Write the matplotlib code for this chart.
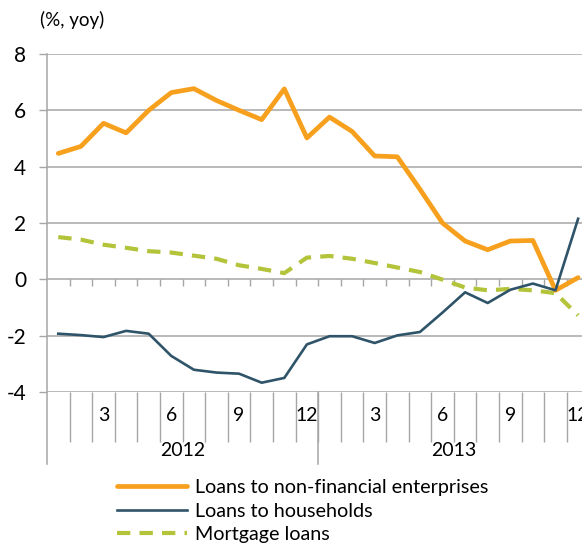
import matplotlib.pyplot as plt

# monthly data, Jan 2012 .. Dec 2013
months = list(range(24))
month_labels = ['', '', '3', '', '', '6', '', '', '9', '', '', '12',
                '', '', '3', '', '', '6', '', '', '9', '', '', '12']
years = ['2012', '2013']

non_financial = [4.47, 4.72, 5.54, 5.20, 6.00, 6.63, 6.77, 6.35, 6.00, 5.67, 6.76, 5.02,
                 5.76, 5.25, 4.38, 4.35, 3.20, 2.00, 1.36, 1.05, 1.36, 1.38, -0.39, 0.06]
households = [-1.93, -1.98, -2.05, -1.83, -1.93, -2.72, -3.21, -3.31, -3.35, -3.67, -3.50, -2.31,
              -2.02, -2.02, -2.26, -1.99, -1.87, -1.18, -0.46, -0.84, -0.37, -0.15, -0.39, 2.15]
mortgage = [1.50, 1.41, 1.23, 1.12, 1.00, 0.95, 0.84, 0.73, 0.50, 0.37, 0.22, 0.77,
            0.83, 0.73, 0.58, 0.42, 0.26, -0.01, -0.29, -0.39, -0.34, -0.39, -0.49, -1.28]

plt.rcParams['font.family'] = ['Lato', 'DejaVu Sans']
plt.rcParams['axes.unicode_minus'] = False
grid_col = '#a6a6a6'

fig = plt.figure(figsize=(5.82, 5.44), dpi=100)
ax = fig.add_axes([47 / 582, 1 - 392 / 544, 542.4 / 582, 338 / 544])

l1, = ax.plot(months, non_financial, color='#f7a01e', lw=3.4, solid_capstyle='round',
              solid_joinstyle='round', label='Loans to non-financial enterprises', zorder=4)
l2, = ax.plot(months, households, color='#2f5469', lw=1.9, label='Loans to households', zorder=5)
l3, = ax.plot(months, mortgage, color='#b3c33a', lw=3.0, dashes=(3.2, 2.2),
              label='Mortgage loans', zorder=3)

ax.set_xlim(-0.5, 23.5)
ax.set_ylim(-4, 8)
ax.set_yticks(range(-4, 9, 2))
ax.yaxis.grid(True, color=grid_col, lw=1.1)
ax.set_axisbelow(True)
for s in ['top', 'right', 'bottom', 'left']:
    ax.spines[s].set_visible(False)

ax.tick_params(axis='y', length=6, width=1, color=grid_col, pad=9, labelsize=15)

# category boundaries on the bottom
bounds = [m + 0.5 for m in months]
ax.set_xticks(bounds)
ax.set_xticklabels([])
ax.tick_params(axis='x', which='major', length=36, width=1, color=grid_col)
ax.set_xticks(months, minor=True)
ax.set_xticklabels(month_labels, minor=True)
ax.tick_params(axis='x', which='minor', length=0, pad=11, labelsize=14)

# small ticks on the zero line
ax.vlines(bounds, 0, -0.24, color=grid_col, lw=1, zorder=1)

# left axis line and year separators
xt = ax.get_xaxis_transform()
ax.plot([-0.5, -0.5], [1, -0.213], transform=xt, color=grid_col, lw=1.1, clip_on=False)
ax.plot([11.5, 11.5], [0, -0.213], transform=xt, color=grid_col, lw=1.1, clip_on=False)
ax.text(5.5, -0.172, years[0], transform=xt, ha='center', va='center', fontsize=14)
ax.text(17.5, -0.172, years[1], transform=xt, ha='center', va='center', fontsize=14)

fig.text(40 / 582, 1 - 20 / 544, '(%, yoy)', ha='left', va='center', fontsize=13.5)

fig.legend(handles=[l1, l2, l3], loc='upper left', bbox_to_anchor=(117 / 582, 1 - 479 / 544),
           frameon=False, fontsize=14.2, handlelength=3.55, handletextpad=0.4,
           labelspacing=0.33, borderaxespad=0, borderpad=0)

plt.savefig('out.png', dpi=100)
